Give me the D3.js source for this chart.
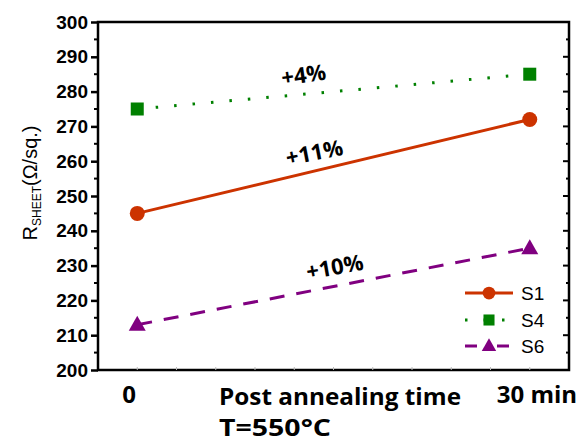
<!DOCTYPE html>
<html><head><meta charset="utf-8">
<script src="https://cdn.jsdelivr.net/npm/d3@7"></script>
<style>body{margin:0;background:#fff}svg{display:block}</style>
</head><body>
<script>
const times = [0, 30];
const seriesNames = ["S1", "S4", "S6"];
const s1 = [245, 272];
const s4 = [275, 285];
const s6 = [213, 235];
const yTicks = [200, 210, 220, 230, 240, 250, 260, 270, 280, 290, 300];
const xTickLabels = ["0", "30 min"];
const annotations = ["+11%", "+4%", "+10%"];

const W = 583, H = 443;
const m = {l: 98, r: 14, t: 22, b: 73};
const svg = d3.select("body").append("svg").attr("width", W).attr("height", H);
const x = d3.scaleLinear().domain([-3, 33]).range([m.l, W - m.r]);
const y = d3.scaleLinear().domain([200, 300]).range([H - m.b, m.t]);

const colors = ["#cc3300", "#008000", "#800080"];
const dashes = [null, "2.5,16", "15,12"];
const data = [s1, s4, s6];

// frame
svg.append("rect").attr("x", m.l).attr("y", m.t).attr("width", x.range()[1] - m.l).attr("height", y.range()[0] - m.t)
  .attr("fill", "none").attr("stroke", "#000").attr("stroke-width", 2.5);

// left axis
const gl = svg.append("g").attr("transform", `translate(${m.l},0)`)
  .call(d3.axisLeft(y).tickValues(yTicks).tickSize(7).tickPadding(3));
gl.select(".domain").remove();
gl.selectAll("line").attr("stroke-width", 2.5);
gl.selectAll("text").attr("font-family", "Liberation Sans, Arial, sans-serif").attr("font-weight", "bold").attr("font-size", 19).attr("fill", "#000");
// minor ticks on left
const minor = d3.range(205, 300, 10);
svg.append("g").selectAll("line").data(minor).join("line")
  .attr("x1", m.l - 4).attr("x2", m.l).attr("y1", d => y(d)).attr("y2", d => y(d)).attr("stroke", "#000").attr("stroke-width", 2);
// right axis ticks inward
const xr = x.range()[1];
svg.append("g").selectAll("line").data(d3.range(200, 301, 5)).join("line")
  .attr("x1", d => xr - (d % 10 === 0 ? 6 : 3)).attr("x2", xr).attr("y1", d => y(d)).attr("y2", d => y(d)).attr("stroke", "#000").attr("stroke-width", 2);
// bottom faint ticks
svg.append("g").selectAll("line").data(d3.range(0, 31, 3)).join("line")
  .attr("x1", d => x(d)).attr("x2", d => x(d)).attr("y1", y(200) - 3).attr("y2", y(200)).attr("stroke", "#bbb").attr("stroke-width", 1);

// x tick labels
const calib = "'Open Sans', Carlito, Lato, sans-serif";
svg.append("g").selectAll("text").data(times).join("text")
  .attr("x", (d, i) => i === 0 ? x(d) - 15 : x(d) - 33).attr("y", 403)
  .attr("font-family", calib).attr("font-weight", "bold").attr("font-size", 24).attr("text-anchor", "start")
  .text((d, i) => xTickLabels[i]);
svg.append("text").attr("x", 219).attr("y", 405).attr("font-family", calib).attr("font-weight", "bold").attr("font-size", 24)
  .attr("textLength", 242).attr("lengthAdjust", "spacingAndGlyphs").text("Post annealing time");
svg.append("text").attr("x", 219).attr("y", 436).attr("font-family", calib).attr("font-weight", "bold").attr("font-size", 23)
  .attr("textLength", 112).attr("lengthAdjust", "spacingAndGlyphs").text("T=550°C");

// y label
const yl = svg.append("text").attr("transform", `translate(37,183) rotate(-90)`)
  .attr("text-anchor", "middle").attr("font-family", "Liberation Sans, Arial, sans-serif").attr("font-size", 20).attr("fill", "#000");
yl.append("tspan").text("R");
yl.append("tspan").attr("font-size", 12).attr("dy", 4).text("SHEET");
yl.append("tspan").attr("dy", -4).text("(Ω/sq.)");

// lines
const line = d3.line().x((d, i) => x(times[i])).y(d => y(d));
data.forEach((vals, k) => {
  svg.append("path").datum(vals).attr("d", line).attr("fill", "none").attr("stroke", colors[k]).attr("stroke-width", 3)
    .attr("stroke-dasharray", dashes[k]);
});
function marker(g, k, cx, cy, s) {
  if (k === 0) g.append("circle").attr("cx", cx).attr("cy", cy).attr("r", 7.5 * s).attr("fill", colors[k]);
  else if (k === 1) g.append("rect").attr("x", cx - 6.5 * s).attr("y", cy - 6.5 * s).attr("width", 13 * s).attr("height", 13 * s).attr("fill", colors[k]);
  else g.append("path").attr("d", `M${cx},${cy - 9 * s}L${cx + 8.5 * s},${cy + 6 * s}L${cx - 8.5 * s},${cy + 6 * s}Z`).attr("fill", colors[k]);
}
data.forEach((vals, k) => vals.forEach((v, i) => marker(svg, k, x(times[i]), y(v), 1)));

// annotations
const ann = [[x(13.65), y(260.3), -11], [x(12.8), y(282.6), -8], [x(15.2), y(227.4), -10]];
annotations.forEach((t, k) => {
  svg.append("text").attr("transform", `translate(${ann[k][0]},${ann[k][1]}) rotate(${ann[k][2]})`)
    .attr("text-anchor", "middle").attr("font-family", calib).attr("font-weight", "bold").attr("font-size", 22).text(t);
});

// legend
const lg = [293, 320, 346];
seriesNames.forEach((n, k) => {
  svg.append("line").attr("x1", 465).attr("x2", 513).attr("y1", lg[k]).attr("y2", lg[k]).attr("stroke", colors[k]).attr("stroke-width", 3)
    .attr("stroke-dasharray", k === 0 ? null : (k === 1 ? "2.5,16" : "12,20"));
  marker(svg, k, 489, lg[k], 0.85);
  svg.append("text").attr("x", 521).attr("y", lg[k] + 7).attr("font-family", "Liberation Sans, Arial, sans-serif").attr("font-size", 19).text(n);
});
</script>
</body></html>
